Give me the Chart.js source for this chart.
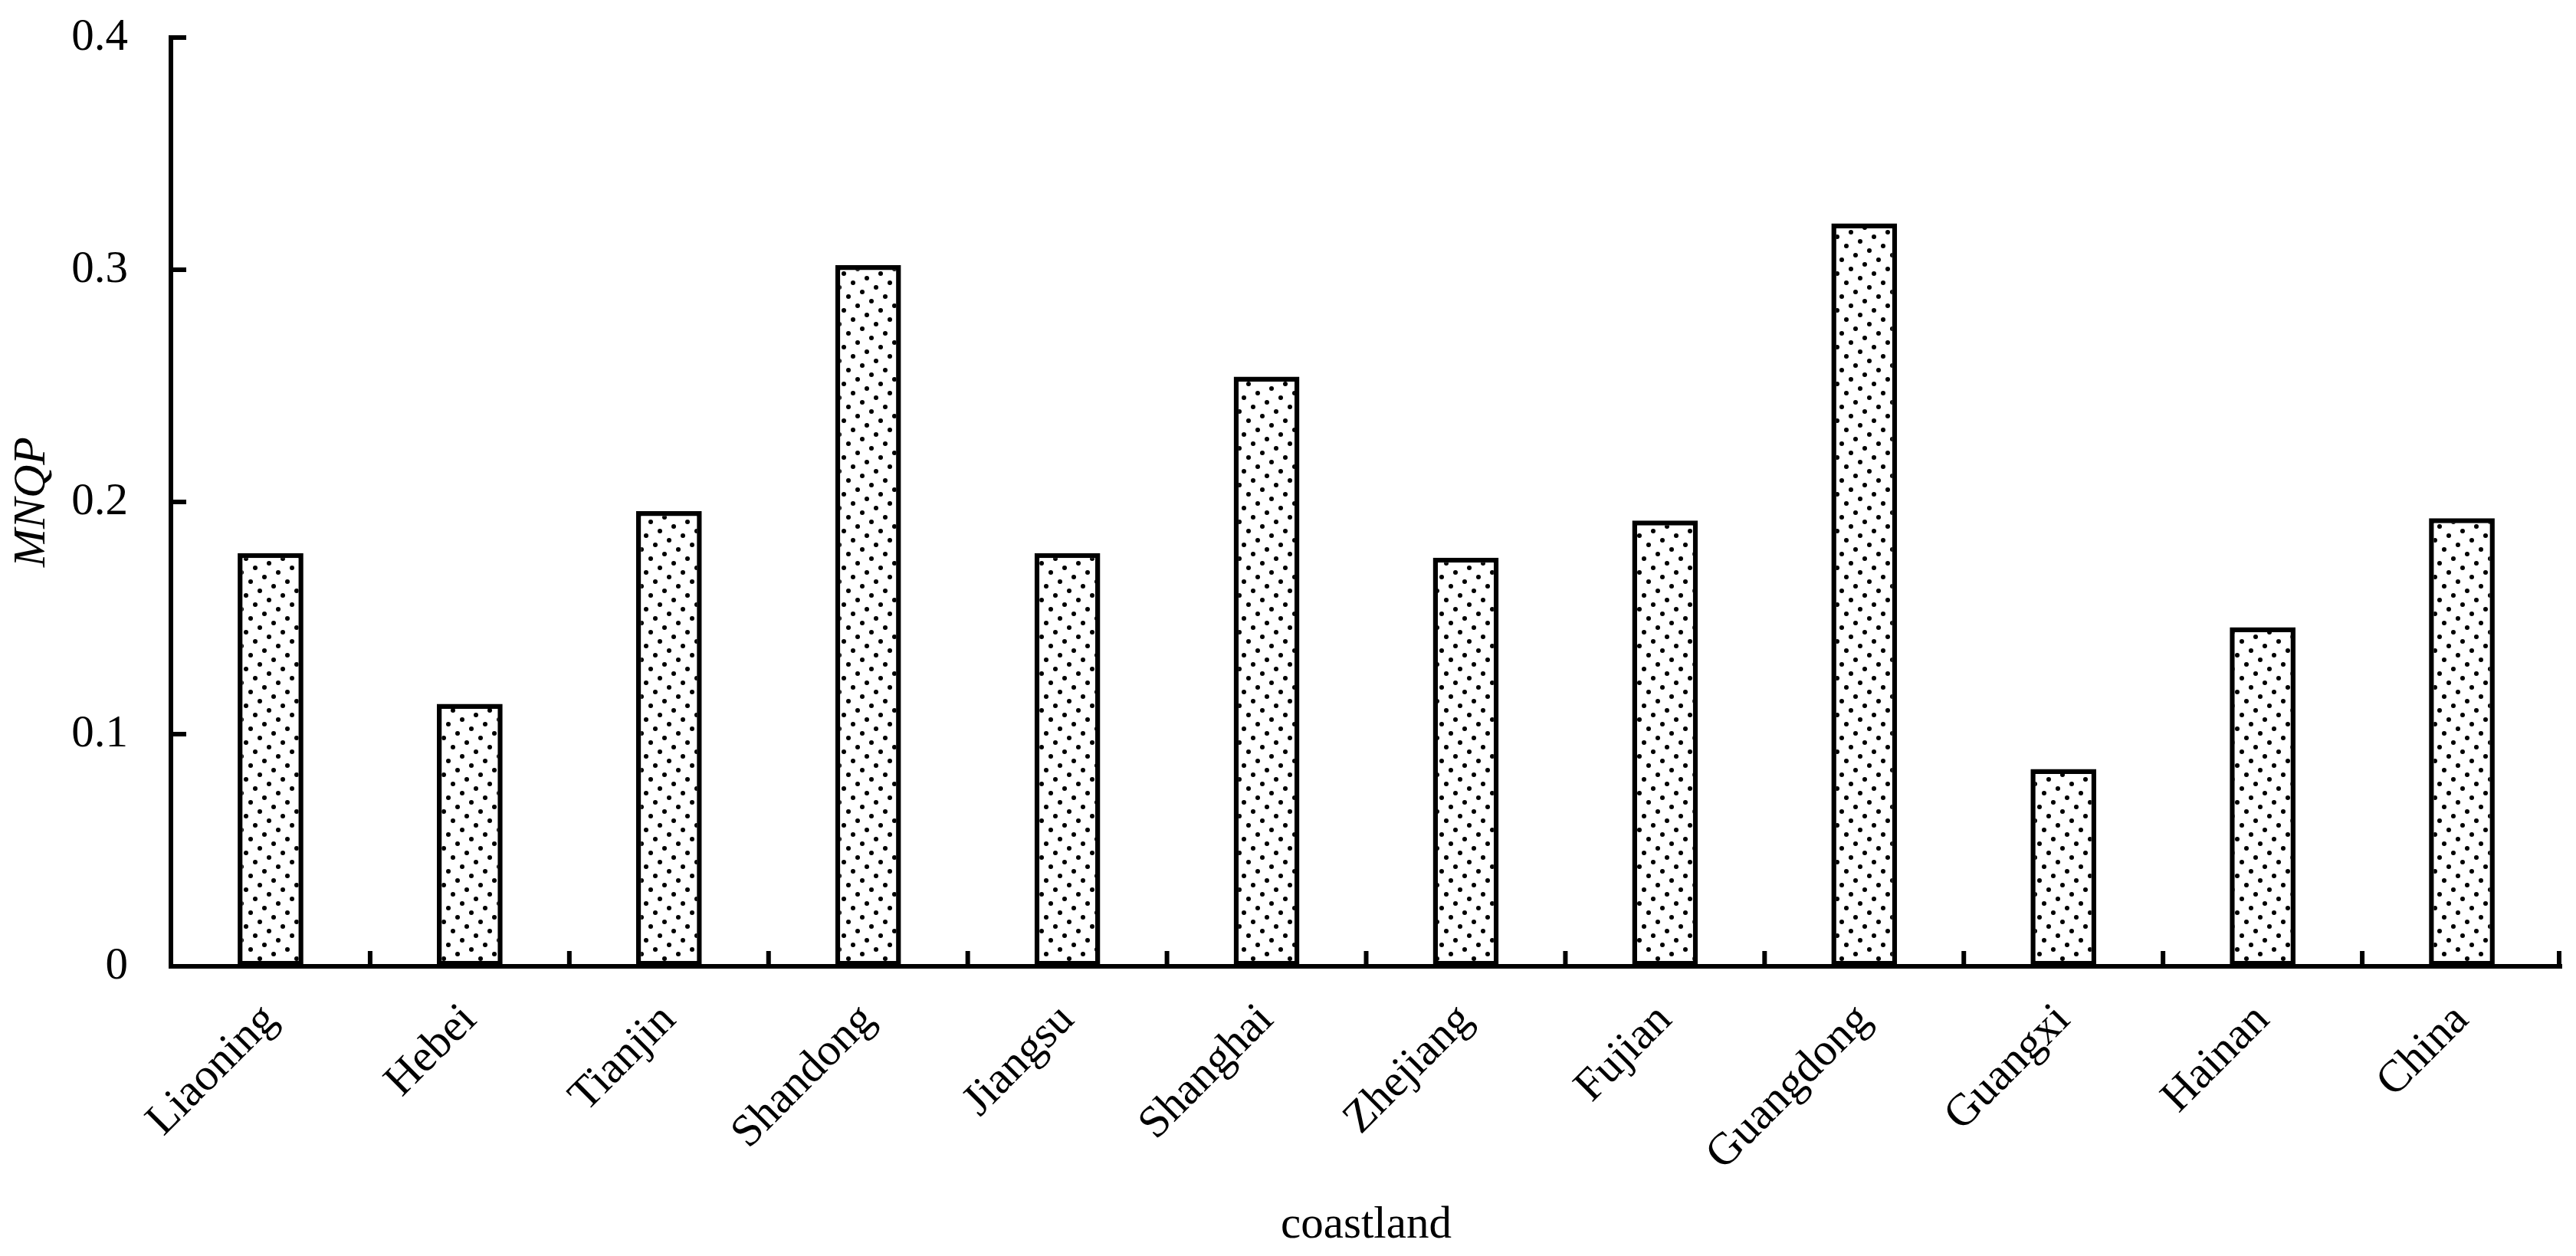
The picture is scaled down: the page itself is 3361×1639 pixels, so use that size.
<!DOCTYPE html>
<html>
<head>
<meta charset="utf-8">
<script src="https://cdn.jsdelivr.net/npm/chart.js@4.4.0/dist/chart.umd.min.js"></script>
<style>
  html, body { margin: 0; padding: 0; background: #ffffff; }
  canvas { display: block; }
</style>
</head>
<body>
<canvas id="myBarGraph" width="3361" height="1639"></canvas>
<script>
var regions = ["Liaoning", "Hebei", "Tianjin", "Shandong", "Jiangsu", "Shanghai",
  "Zhejiang", "Fujian", "Guangdong", "Guangxi", "Hainan", "China"];
var mnqpValues = [0.178, 0.113, 0.196, 0.302, 0.178, 0.254, 0.176, 0.192, 0.320, 0.085, 0.146, 0.193];
var yTicks = [0, 0.1, 0.2, 0.3, 0.4];

// dotted fill like the original
function dotPattern() {
  var c = document.createElement("canvas");
  c.width = 48;
  c.height = 48;
  var p = c.getContext("2d");
  p.fillStyle = "#ffffff";
  p.fillRect(0, 0, 48, 48);
  p.fillStyle = "#000000";
  for (var k = 0; k < 8; k++) {
    p.beginPath();
    p.arc((k * 30) % 48 + 3, k * 6 + 3, 3, 0, Math.PI * 2);
    p.fill();
  }
  return p.createPattern(c, "repeat");
}

// short tick marks pointing into the plot area
var inwardTicks = {
  id: "inwardTicks",
  afterDatasetsDraw: function (chart) {
    var ctx = chart.ctx;
    var xs = chart.scales.x;
    var ys = chart.scales.y;
    var area = chart.chartArea;
    ctx.save();
    ctx.strokeStyle = "#000000";
    ctx.lineWidth = 6;
    yTicks.forEach(function (v) {
      var y = ys.getPixelForValue(v);
      ctx.beginPath();
      ctx.moveTo(area.left, y);
      ctx.lineTo(area.left + 20, y);
      ctx.stroke();
    });
    for (var i = 1; i <= regions.length; i++) {
      var x = xs.getPixelForValue(i - 0.5);
      if (i === regions.length) x = area.right - 3;
      ctx.beginPath();
      ctx.moveTo(x, area.bottom);
      ctx.lineTo(x, area.bottom - 20);
      ctx.stroke();
    }
    ctx.restore();
  }
};

var serif = "'Liberation Serif', 'Times New Roman', serif";
var bar = document.getElementById("myBarGraph").getContext("2d");

var myBarGraph = new Chart(bar, {
  type: "bar",
  data: {
    labels: regions,
    datasets: [
      {
        label: "MNQP",
        data: mnqpValues,
        backgroundColor: dotPattern(),
        borderColor: "#000000",
        borderWidth: 6.5,
        borderSkipped: false,
        barPercentage: 0.33,
        categoryPercentage: 1
      }
    ]
  },
  options: {
    responsive: false,
    devicePixelRatio: 1,
    animation: false,
    layout: {
      padding: { top: 49, right: 19, left: 0, bottom: 0 }
    },
    plugins: {
      legend: { display: false },
      tooltip: { enabled: false }
    },
    scales: {
      x: {
        afterFit: function (scale) { scale.height = 378; },
        grid: { display: true, drawOnChartArea: false, drawTicks: false, offset: true },
        border: { display: true, color: "#000000", width: 6 },
        ticks: {
          color: "#000000",
          font: { family: serif, size: 59 },
          minRotation: 45,
          maxRotation: 45,
          padding: 36
        },
        title: {
          display: true,
          text: "coastland",
          color: "#000000",
          font: { family: serif, size: 59 },
          padding: { top: 0, bottom: 4 }
        }
      },
      y: {
        min: 0,
        max: 0.4,
        afterFit: function (scale) {
          scale.width = 223;
          scale.paddingTop = 0;
          scale.paddingBottom = 0;
        },
        afterBuildTicks: function (scale) {
          scale.ticks = yTicks.map(function (v) { return { value: v }; });
        },
        grid: { display: true, drawOnChartArea: false, drawTicks: false },
        border: { display: true, color: "#000000", width: 6 },
        ticks: {
          color: "#000000",
          font: { family: serif, size: 59 },
          padding: 56,
          callback: function (v) { return v === 0 ? "0" : v.toFixed(1); }
        },
        title: {
          display: true,
          text: "MNQP",
          color: "#000000",
          font: { family: serif, size: 60, style: "italic" },
          padding: { top: 6, bottom: 0 }
        }
      }
    }
  },
  plugins: [inwardTicks]
});
</script>
</body>
</html>
